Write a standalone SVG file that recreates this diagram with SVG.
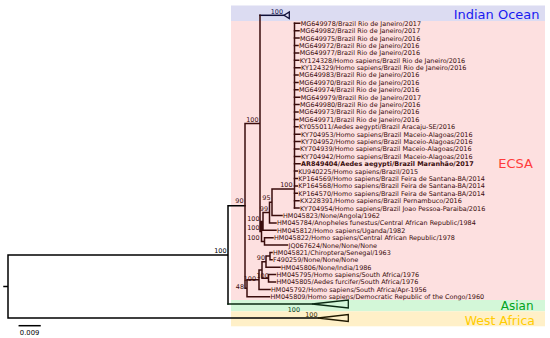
<svg xmlns="http://www.w3.org/2000/svg" width="550" height="338" viewBox="0 0 550 338">
<style>
.lf{font-family:"DejaVu Sans",Verdana,sans-serif;font-size:6.45px;fill:#3a0c0c}
.bs{font-family:"DejaVu Sans",Verdana,sans-serif;font-size:6.45px;fill:#3a0c0c;text-anchor:end}
.rg{font-family:"DejaVu Sans",Verdana,sans-serif;font-size:13px;text-anchor:end}
.k{fill:none;stroke:#000;stroke-width:1.5;stroke-linecap:square}
.m{fill:none;stroke:#3a0c0c;stroke-width:1.5;stroke-linecap:square}
</style>
<rect width="550" height="338" fill="#fff"/>
<g id="clade-indian-ocean">
<rect x="231" y="5.5" width="314" height="15.5" fill="#dcdcf2"/>
<text class="rg" x="539.5" y="18.5" fill="#1a1af0">Indian Ocean</text>
</g>
<g id="clade-ecsa">
<rect x="231" y="21" width="314" height="279" fill="#fde0e0"/>
<text class="rg" x="533" y="168.3" fill="#ff3b3b">ECSA</text>
</g>
<g id="clade-asian">
<rect x="231" y="300" width="314" height="11.3" fill="#d3f7d8"/>
<text class="rg" x="533.5" y="310" fill="#00a41c" style="font-size:12px">Asian</text>
</g>
<g id="clade-west-africa">
<rect x="231" y="311.3" width="314" height="15" fill="#fff0c8"/>
<text class="rg" x="535" y="325" fill="#ffcc00" style="font-size:12.5px">West Africa</text>
</g>
<g id="connectors">
<path class="k" d="M4 286.5H8M8 254.9V318M8 254.9H228M8 318H318M228 205.8V304M228 205.8H245"/>
<path class="k" d="M228 304H312" style="stroke:#0a2a12"/>
<polygon points="312,304 348.3,300 348.3,308" fill="none" stroke="#0a2a12" stroke-width="1.3"/>
<polygon points="318,318 348.3,314.5 348.3,321.5" fill="none" stroke="#201800" stroke-width="1.3"/>
<path class="k" style="stroke:#10103a" d="M260 15.3H284"/>
<polygon points="284,15.3 289.3,12 289.3,18.6" fill="none" stroke="#10103a" stroke-width="1.3"/>
<path class="m" d="M245 123.4V288.2M245 123.4H260M245 288.2H247M260 15.3V231.4M260 231.4H261.5M261.5 221.5V241.4M261.5 221.5H263M261.5 241.4H264.5M263 212.6V230.3M263 212.6H269.5M263 230.3H276M269.5 202.3V222.9M269.5 202.3H272M269.5 222.9H276M272 189V215.5M272 189H294.5M272 215.5H282M294.5 23.3V208.1M264.5 237.7V245.1M264.5 237.7H273M264.5 245.1H287.5M247 279.7V296.8M247 279.7H259M247 296.8H269.5M259 270V289.4M259 270H262M259 289.4H270M262 261.7V278.3M262 261.7H266M262 278.3H268.5M266 256.1V267.2M266 256.1H270M266 267.2H280M270 252.5V259.8M270 252.5H272M270 259.8H272M268.5 274.6V282M268.5 274.6H275.5M268.5 282H275.5"/>
<path class="m" d="M294.5 23.3H299.7M294.5 30.7H299M294.5 38.1H299M294.5 45.5H298M294.5 52.9H298.7M294.5 60.3H298.7M294.5 67.7H300M294.5 75H298M294.5 82.4H298M294.5 89.8H298M294.5 97.2H299.7M294.5 104.6H299M294.5 112H298M294.5 119.4H298M294.5 126.8H298M294.5 134.2H300M294.5 141.6H300M294.5 149H299M294.5 156.4H300M294.5 163.8H300M294.5 171.1H297.3M294.5 178.5H297.3M294.5 185.9H297.3M294.5 193.3H297.3M294.5 200.7H299M294.5 208.1H299"/>
<path class="k" d="M19.3 325.7H40" stroke-width="1.3"/>
</g>
<g id="bootstrap">
<text class="bs" x="283" y="13.5" style="fill:#10104a">100</text>
<text class="bs" x="258.5" y="121.9">100</text>
<text class="bs" x="292.5" y="187">100</text>
<text class="bs" x="270.5" y="200.3">95</text>
<text class="bs" x="268" y="210.8">99</text>
<text class="bs" x="259.5" y="220.5">100</text>
<text class="bs" x="259.5" y="229.8">100</text>
<text class="bs" x="259.5" y="240.3">100</text>
<text class="bs" x="243.5" y="202.5">90</text>
<text class="bs" x="226.5" y="253" style="fill:#000">100</text>
<text class="bs" x="244" y="288.5">48</text>
<text class="bs" x="256" y="280.5">100</text>
<text class="bs" x="268.8" y="277.5">100</text>
<text class="bs" x="265" y="260">90</text>
<text class="bs" x="300" y="311.5" style="fill:#0f3f1f">100</text>
<text class="bs" x="317.5" y="316.5" style="fill:#3a3000">100</text>
</g>
<g id="leaves">
<g id="n1"><text class="lf" x="300.7" y="25.7">MG649978/Brazil Rio de Janeiro/2017</text></g>
<g id="n2"><text class="lf" x="300" y="33.1">MG649982/Brazil Rio de Janeiro/2017</text></g>
<g id="n3"><text class="lf" x="300" y="40.5">MG649975/Brazil Rio de Janeiro/2016</text></g>
<g id="n4"><text class="lf" x="299" y="47.9">MG649972/Brazil Rio de Janeiro/2016</text></g>
<g id="n5"><text class="lf" x="299.7" y="55.3">MG649977/Brazil Rio de Janeiro/2016</text></g>
<g id="n6"><text class="lf" x="299.7" y="62.7">KY124328/Homo sapiens/Brazil Rio de Janeiro/2016</text></g>
<g id="n7"><text class="lf" x="301" y="70.1">KY124329/Homo sapiens/Brazil Rio de Janeiro/2016</text></g>
<g id="n8"><text class="lf" x="299" y="77.4">MG649983/Brazil Rio de Janeiro/2016</text></g>
<g id="n9"><text class="lf" x="299" y="84.8">MG649970/Brazil Rio de Janeiro/2016</text></g>
<g id="n10"><text class="lf" x="299" y="92.2">MG649974/Brazil Rio de Janeiro/2016</text></g>
<g id="n11"><text class="lf" x="300.7" y="99.6">MG649979/Brazil Rio de Janeiro/2017</text></g>
<g id="n12"><text class="lf" x="300" y="107">MG649980/Brazil Rio de Janeiro/2016</text></g>
<g id="n13"><text class="lf" x="299" y="114.4">MG649973/Brazil Rio de Janeiro/2016</text></g>
<g id="n14"><text class="lf" x="299" y="121.8">MG649971/Brazil Rio de Janeiro/2016</text></g>
<g id="n15"><text class="lf" x="299" y="129.2">KY055011/Aedes aegypti/Brazil Aracaju-SE/2016</text></g>
<g id="n16"><text class="lf" x="301" y="136.6">KY704953/Homo sapiens/Brazil Maceio-Alagoas/2016</text></g>
<g id="n17"><text class="lf" x="301" y="144">KY704952/Homo sapiens/Brazil Maceio-Alagoas/2016</text></g>
<g id="n18"><text class="lf" x="300" y="151.4">KY704939/Homo sapiens/Brazil Maceio-Alagoas/2016</text></g>
<g id="n19"><text class="lf" x="301" y="158.8">KY704942/Homo sapiens/Brazil Maceio-Alagoas/2016</text></g>
<g id="n20"><text class="lf" x="301" y="166.2" font-weight="bold">AR849404/Aedes aegypti/Brazil Maranhão/2017</text></g>
<g id="n21"><text class="lf" x="298.3" y="173.5">KU940225/Homo sapiens/Brazil/2015</text></g>
<g id="n22"><text class="lf" x="298.3" y="180.9">KP164569/Homo sapiens/Brazil Feira de Santana-BA/2014</text></g>
<g id="n23"><text class="lf" x="298.3" y="188.3">KP164568/Homo sapiens/Brazil Feira de Santana-BA/2014</text></g>
<g id="n24"><text class="lf" x="298.3" y="195.7">KP164570/Homo sapiens/Brazil Feira de Santana-BA/2014</text></g>
<g id="n25"><text class="lf" x="300" y="203.1">KX228391/Homo sapiens/Brazil Pernambuco/2016</text></g>
<g id="n26"><text class="lf" x="300" y="210.5">KY704954/Homo sapiens/Brazil Joao Pessoa-Paraiba/2016</text></g>
<g id="n27"><text class="lf" x="283" y="217.9">HM045823/None/Angola/1962</text></g>
<g id="n28"><text class="lf" x="277" y="225.3">HM045784/Anopheles funestus/Central African Republic/1984</text></g>
<g id="n29"><text class="lf" x="277" y="232.7">HM045812/Homo sapiens/Uganda/1982</text></g>
<g id="n30"><text class="lf" x="274" y="240.1">HM045822/Homo sapiens/Central African Republic/1978</text></g>
<g id="n31"><text class="lf" x="288.5" y="247.5">JQ067624/None/None/None</text></g>
<g id="n32"><text class="lf" x="273" y="254.9">HM045821/Chiroptera/Senegal/1963</text></g>
<g id="n33"><text class="lf" x="273" y="262.2">F490259/None/None/None</text></g>
<g id="n34"><text class="lf" x="281" y="269.6">HM045806/None/India/1986</text></g>
<g id="n35"><text class="lf" x="276.5" y="277">HM045795/Homo sapiens/South Africa/1976</text></g>
<g id="n36"><text class="lf" x="276.5" y="284.4">HM045805/Aedes furcifer/South Africa/1976</text></g>
<g id="n37"><text class="lf" x="271" y="291.8">HM045792/Homo sapiens/South Africa/Apr-1956</text></g>
<g id="n38"><text class="lf" x="270.5" y="299.2">HM045809/Homo sapiens/Democratic Republic of the Congo/1960</text></g>
</g>
<g id="scale">
<text x="29.6" y="334.5" text-anchor="middle" style="font-family:'DejaVu Sans',Verdana,sans-serif;font-size:6.8px;fill:#000">0.009</text>
</g>
</svg>
